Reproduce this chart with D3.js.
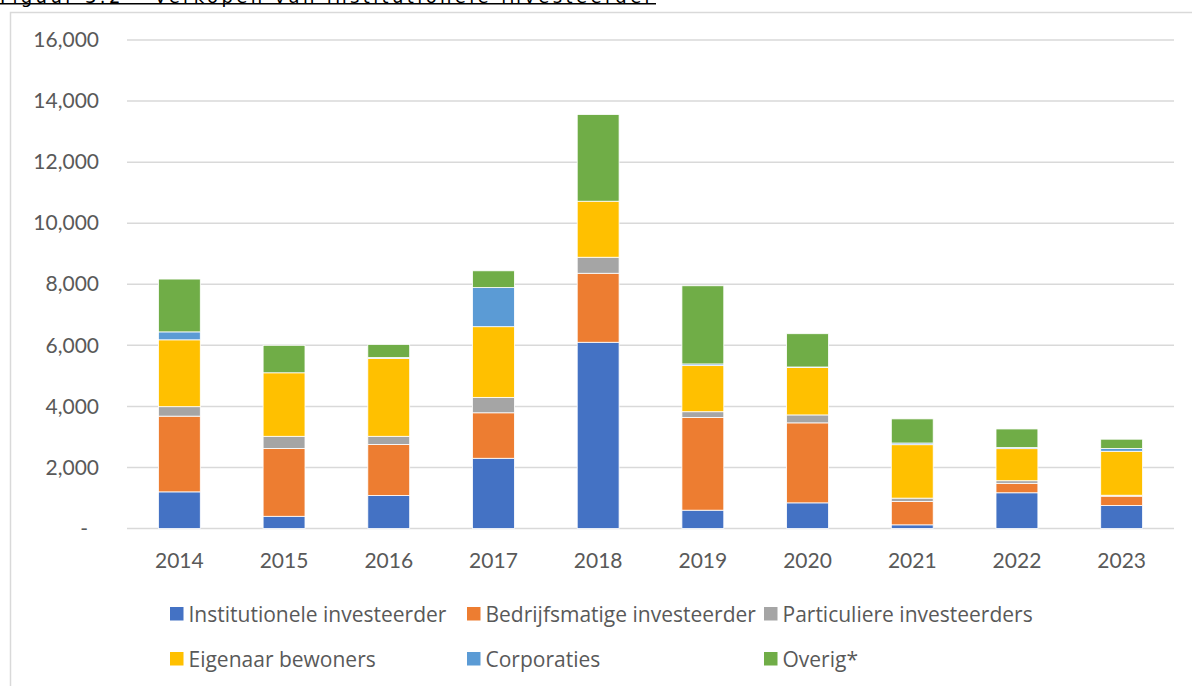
<!DOCTYPE html>
<html>
<head>
<meta charset="utf-8">
<script src="https://cdn.jsdelivr.net/npm/d3@7"></script>
<style>
  body { margin: 0; background: #fff; }
  svg { display: block; }
  text { font-family: Lato, "Open Sans", sans-serif; fill: #595959; }
</style>
</head>
<body>
<div id="grafico"></div>
<script>
// data
const years = ['2014', '2015', '2016', '2017', '2018', '2019', '2020', '2021', '2022', '2023'];
const institutioneel = [1200, 400, 1080, 2300, 6100, 600, 840, 120, 1170, 750];
const bedrijfsmatig = [2480, 2220, 1670, 1490, 2260, 3040, 2620, 765, 310, 310];
const particulier = [310, 400, 270, 505, 525, 185, 260, 110, 85, 30];
const eigenaar = [2190, 2080, 2550, 2315, 1835, 1510, 1555, 1750, 1050, 1440];
const corporaties = [260, 0, 30, 1280, 0, 55, 15, 55, 35, 90];
const overig = [1730, 900, 430, 550, 2840, 2560, 1090, 790, 610, 305];
const yTicks = [0, 2000, 4000, 6000, 8000, 10000, 12000, 14000, 16000];

const series = [
    { name: 'Institutionele investeerder', values: institutioneel, color: '#4472C4' },
    { name: 'Bedrijfsmatige investeerder', values: bedrijfsmatig, color: '#ED7D31' },
    { name: 'Particuliere investeerders', values: particulier, color: '#A5A5A5' },
    { name: 'Eigenaar bewoners', values: eigenaar, color: '#FFC000' },
    { name: 'Corporaties', values: corporaties, color: '#5B9BD5' },
    { name: 'Overig*', values: overig, color: '#70AD47' }
];

const width = 1192;
const height = 686;
const plotLeft = 127, plotRight = 1174, plotTop = 40, plotBottom = 528.5;

// rows for d3.stack
const rows = years.map((y, i) => {
    const r = { year: y };
    series.forEach(s => { r[s.name] = s.values[i]; });
    return r;
});
const stacked = d3.stack().keys(series.map(s => s.name))(rows);
const color = d3.scaleOrdinal().domain(series.map(s => s.name)).range(series.map(s => s.color));

const svg = d3.select('#grafico').append('svg')
    .attr('width', width)
    .attr('height', height);

// caption, cut off at the top of the page like in the source
svg.append('text')
    .attr('x', 0)
    .attr('y', 2.5)
    .attr('textLength', 652)
    .style('font-family', '"DejaVu Sans", sans-serif')
    .style('font-size', '18px')
    .style('fill', '#000')
    .text('Figuur 3.2  –  Verkopen van institutionele investeerder');
svg.append('line')
    .attr('x1', 0).attr('x2', 656)
    .attr('y1', 3.8).attr('y2', 3.8)
    .attr('stroke', '#000')
    .attr('stroke-width', 1.6);

// chart frame
svg.append('rect')
    .attr('x', 10.5).attr('y', 12.5)
    .attr('width', 1200).attr('height', 700)
    .attr('fill', 'none')
    .attr('stroke', '#d9d9d9')
    .attr('stroke-width', 1.5);

const x = d3.scaleBand().domain(years).range([plotLeft, plotRight]).paddingInner(0.6).paddingOuter(0.3);
const y = d3.scaleLinear().domain([0, 16000]).range([plotBottom, plotTop]);

// gridlines
svg.append('g')
    .selectAll('line')
    .data(yTicks)
    .enter()
    .append('line')
    .attr('x1', plotLeft).attr('x2', plotRight)
    .attr('y1', d => y(d)).attr('y2', d => y(d))
    .attr('stroke', '#d9d9d9')
    .attr('stroke-width', 1.5);

// y axis labels
const yAxis = svg.append('g')
    .attr('transform', `translate(${plotLeft - 28},0)`)
    .call(d3.axisLeft(y).tickValues(yTicks).tickSize(0).tickPadding(0)
        .tickFormat(d => d === 0 ? '-' : d3.format(',')(d)));
yAxis.select('.domain').remove();
yAxis.selectAll('text')
    .style('font-family', 'Lato, sans-serif')
    .style('font-size', '21px')
    .style('fill', '#595959')
    .attr('dx', d => d === 0 ? -11 : 0);

// stacked bars
svg.append('g')
    .selectAll('g')
    .data(stacked)
    .enter()
    .append('g')
    .attr('fill', d => color(d.key))
    .selectAll('rect')
    .data(d => d)
    .enter()
    .append('rect')
    .attr('x', d => x(d.data.year))
    .attr('y', d => y(d[1]))
    .attr('width', x.bandwidth())
    .attr('height', d => y(d[0]) - y(d[1]))
    .attr('stroke', '#fff')
    .attr('stroke-width', 0.8);

// x axis labels
const xAxis = svg.append('g')
    .attr('transform', `translate(0,${plotBottom})`)
    .call(d3.axisBottom(x).tickSize(0).tickPadding(0));
xAxis.select('.domain').remove();
xAxis.selectAll('text')
    .attr('dy', null)
    .attr('y', 39.5)
    .style('font-family', 'Lato, sans-serif')
    .style('font-size', '21px')
    .style('fill', '#595959');

// legend
const colX = [170, 467, 764];
const rowY = [607, 652];
const legend = svg.append('g').attr('id', 'legend');
const item = legend.selectAll('g')
    .data(series)
    .enter()
    .append('g')
    .attr('transform', (d, i) => `translate(${colX[i % 3]},${rowY[Math.floor(i / 3)]})`);
item.append('rect')
    .attr('width', 13.5)
    .attr('height', 13.5)
    .attr('fill', d => d.color);
item.append('text')
    .attr('x', 18.5)
    .attr('y', 14.5)
    .style('font-family', '"Open Sans", sans-serif')
    .style('font-size', '21px')
    .text(d => d.name);
</script>
</body>
</html>
